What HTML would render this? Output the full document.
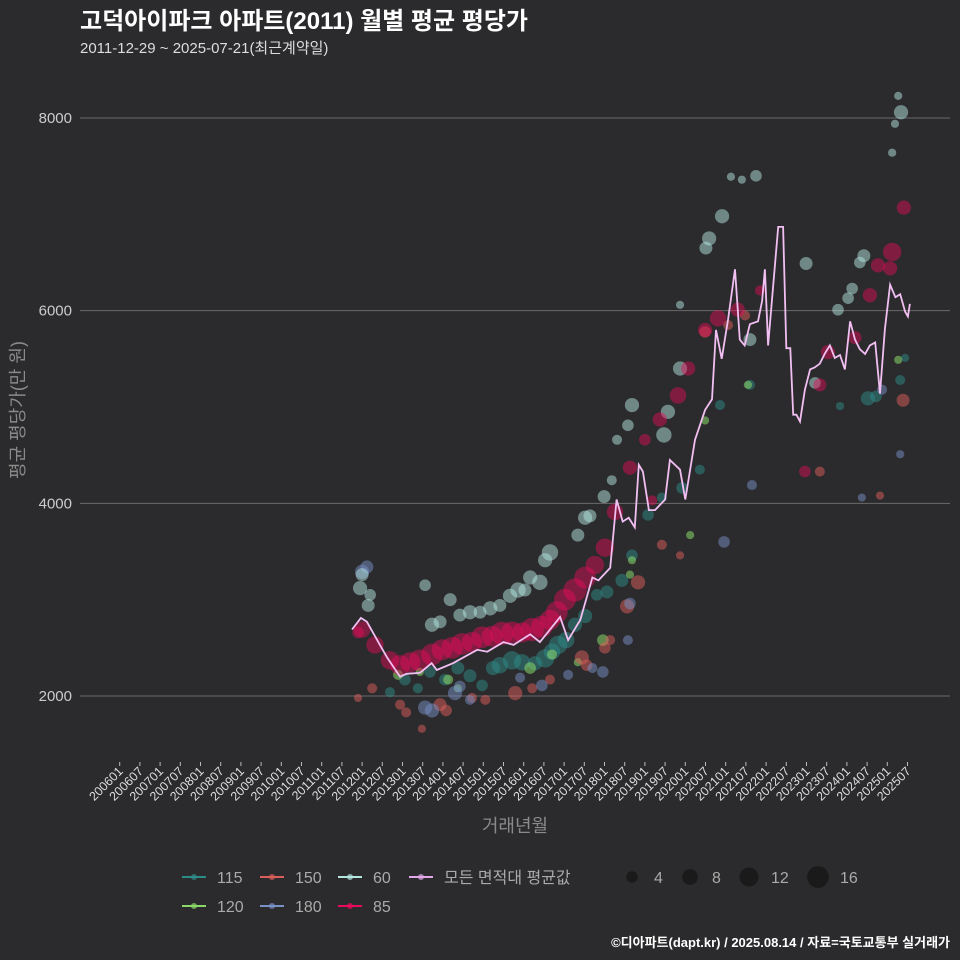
<!DOCTYPE html>
<html><head><meta charset="utf-8">
<style>
html,body{margin:0;padding:0;background:#2b2b2d;}
svg{display:block;font-family:"Liberation Sans","Noto Sans CJK KR",sans-serif;}
</style></head>
<body>
<svg id="chart" width="960" height="960" viewBox="0 0 960 960">
<rect x="0" y="0" width="960" height="960" fill="#2b2b2d"/>
<text x="80" y="29" fill="#ffffff" font-size="24" font-weight="bold">고덕아이파크 아파트(2011) 월별 평균 평당가</text>
<text x="80" y="53" fill="#dddddd" font-size="15">2011-12-29 ~ 2025-07-21(최근계약일)</text>
<g id="grid"></g>
<g id="points"></g>
<g id="avgline"></g>
<g id="xaxis"></g>
<text x="515" y="832" fill="#8a8a8a" font-size="18" text-anchor="middle">거래년월</text>
<text transform="translate(24,410) rotate(-90)" fill="#8a8a8a" font-size="18" text-anchor="middle">평균 평당가(만 원)</text>
<g id="legend"></g>
<text x="950" y="947" fill="#ffffff" font-size="13" font-weight="bold" text-anchor="end">©디아파트(dapt.kr) / 2025.08.14 / 자료=국토교통부 실거래가</text>
</svg>
<script>
const yTicks = [2000, 4000, 6000, 8000];
const avgYears = [2011.75,2011.97,2012.12,2012.44,2012.62,2012.94,2013.1,2013.43,2013.72,2013.85,2014.25,2014.85,2015.1,2015.5,2015.75,2016.16,2016.4,2016.9,2017.1,2017.4,2017.7,2017.85,2018.14,2018.3,2018.45,2018.6,2018.75,2018.85,2018.95,2019.1,2019.25,2019.5,2019.62,2019.87,2020.0,2020.24,2020.49,2020.66,2020.76,2020.9,2021.06,2021.23,2021.35,2021.47,2021.6,2021.8,2021.9,2021.97,2022.05,2022.3,2022.42,2022.5,2022.6,2022.67,2022.75,2022.84,2022.96,2023.09,2023.2,2023.33,2023.46,2023.58,2023.7,2023.83,2023.95,2024.08,2024.2,2024.32,2024.45,2024.57,2024.7,2024.82,2024.94,2025.07,2025.2,2025.32,2025.44,2025.51,2025.56];
const avgValues = [2690,2810,2770,2530,2400,2200,2230,2240,2340,2270,2340,2480,2460,2560,2530,2640,2560,2820,2580,2790,3230,3200,3330,4040,3810,3850,3750,4400,4330,3930,3930,4040,4450,4350,4040,4660,4970,5080,5800,5500,5910,6430,5700,5640,5860,5890,6100,6430,5640,6870,6870,5610,5610,4920,4920,4850,5180,5390,5410,5450,5560,5640,5510,5540,5390,5890,5700,5600,5550,5640,5670,5140,5810,6270,6140,6170,5990,5940,6070];
// [year, value, count]
const s60 = [[2011.95,3120,6],[2012.0,3260,5],[2012.15,2940,5],[2012.2,3050,4],[2013.56,3150,4],[2013.73,2740,6],[2013.93,2770,5],[2014.18,3000,5],[2014.42,2840,5],[2014.67,2870,6],[2014.92,2870,5],[2015.17,2910,6],[2015.41,2940,5],[2015.66,3040,6],[2015.86,3100,7],[2016.03,3100,5],[2016.16,3230,6],[2016.4,3180,7],[2016.53,3410,6],[2016.65,3490,8],[2017.34,3670,5],[2017.52,3850,6],[2017.64,3870,5],[2017.99,4070,5],[2018.18,4240,3],[2018.31,4660,3],[2018.58,4810,4],[2018.68,5020,6],[2019.47,4710,7],[2019.57,4950,6],[2019.87,5400,6],[2020.51,6650,5],[2020.59,6750,6],[2020.91,6980,6],[2021.13,7390,2],[2021.4,7360,2],[2021.75,7400,4],[2021.6,5700,5],[2022.99,6490,5],[2023.21,5250,4],[2024.03,6130,4],[2024.13,6230,4],[2024.32,6500,4],[2024.42,6570,5],[2025.12,7640,2],[2025.19,7940,2],[2025.34,8060,6],[2025.27,8230,2],[2019.87,6060,2],[2023.78,6010,4]];
const s85 = [[2011.9,2660,4],[2012.0,2690,8],[2012.32,2530,9],[2012.69,2370,10],[2012.94,2320,12],[2013.19,2350,12],[2013.43,2370,14],[2013.73,2430,14],[2013.98,2480,13],[2014.23,2500,14],[2014.47,2540,14],[2014.72,2560,12],[2014.97,2610,14],[2015.22,2620,13],[2015.46,2650,16],[2015.71,2660,14],[2015.96,2660,12],[2016.21,2690,16],[2016.45,2720,14],[2016.65,2790,12],[2016.82,2870,14],[2017.02,3000,14],[2017.27,3100,16],[2017.52,3230,14],[2017.76,3360,10],[2018.01,3540,10],[2018.26,3910,8],[2018.63,4370,6],[2019.0,4660,4],[2019.37,4870,6],[2019.82,5120,8],[2020.07,5400,6],[2020.49,5800,6],[2020.81,5920,8],[2021.3,6010,6],[2021.85,6210,3],[2022.96,4330,4],[2023.53,5570,6],[2024.2,5720,5],[2024.57,6160,6],[2024.77,6470,6],[2025.12,6610,10],[2025.41,7070,6],[2025.07,6440,6],[2019.18,4030,3],[2023.33,5230,5]];
const s115 = [[2012.69,2040,3],[2013.06,2170,4],[2013.38,2080,3],[2013.68,2250,4],[2014.05,2170,4],[2014.37,2290,5],[2014.67,2210,5],[2014.97,2110,4],[2015.24,2290,6],[2015.41,2320,8],[2015.71,2370,10],[2015.96,2350,8],[2016.28,2340,6],[2016.53,2390,10],[2016.7,2460,8],[2016.85,2530,10],[2017.05,2580,8],[2017.27,2740,6],[2017.52,2830,6],[2017.81,3050,4],[2018.06,3080,5],[2018.43,3200,5],[2018.68,3460,4],[2019.08,3880,4],[2019.42,4060,3],[2019.92,4160,4],[2020.36,4350,3],[2020.86,5020,3],[2021.6,5230,3],[2024.52,5090,6],[2024.72,5110,4],[2025.32,5280,3],[2025.44,5510,2],[2023.83,5010,2]];
const s150 = [[2011.9,1980,2],[2012.25,2080,3],[2012.94,1910,3],[2013.09,1830,3],[2013.93,1910,5],[2014.08,1850,4],[2014.72,1980,3],[2015.05,1960,3],[2015.79,2030,6],[2016.21,2080,3],[2016.65,2170,3],[2017.44,2400,6],[2017.56,2320,4],[2018.01,2500,4],[2018.14,2580,3],[2018.56,2930,6],[2018.83,3180,6],[2019.42,3570,3],[2019.87,3460,2],[2020.49,5780,4],[2021.06,5850,3],[2023.33,4330,3],[2024.82,4080,2],[2025.39,5070,5],[2021.48,5950,3],[2013.48,1660,2]];
const s120 = [[2012.89,2220,3],[2013.43,2250,2],[2014.13,2170,3],[2014.37,2080,2],[2016.16,2290,4],[2016.7,2430,3],[2017.34,2350,2],[2017.96,2580,4],[2018.63,3260,2],[2018.68,3410,2],[2020.12,3670,2],[2020.49,4860,2],[2021.55,5230,2],[2025.27,5490,2]];
const s180 = [[2012.0,3290,6],[2012.12,3340,5],[2013.56,1880,6],[2013.73,1850,6],[2014.3,2030,6],[2014.42,2100,4],[2014.67,1960,3],[2015.91,2190,3],[2016.45,2110,4],[2017.1,2220,3],[2017.7,2290,3],[2017.96,2250,4],[2018.58,2580,3],[2018.63,2960,4],[2020.96,3600,4],[2021.65,4190,3],[2024.37,4060,2],[2025.32,4510,2],[2024.87,5180,3]];
const sizeLegend = [4, 8, 12, 16];

const NS = "http://www.w3.org/2000/svg";
function xs(yr){ return 119.7 + (yr - 2006) * 40.4; }
function ys(v){ return 696 - (v - 2000) * 0.09633; }
function rs(c){ return 2.9 * Math.sqrt(c); }
function mk(tag, attrs, parent){ const e = document.createElementNS(NS, tag); for (const k in attrs) e.setAttribute(k, attrs[k]); parent.appendChild(e); return e; }

const grid = document.getElementById('grid');
yTicks.forEach(t => {
  const l = mk('line', {x1:80, x2:950, y1:ys(t), y2:ys(t), stroke:'#6a6a6a', 'stroke-width':1}, grid);
  
  
  const tx = mk('text', {x:72, y:ys(t)+5, fill:'#cccccc', 'font-size':15, 'text-anchor':'end'}, grid);
  tx.textContent = t;
  
  
});

const xa = document.getElementById('xaxis');
for (let i = 0; i < 40; i++) {
  const yr = 2006 + Math.floor(i/2);
  const mo = i % 2 ? '07' : '01';
  const x = xs(2006 + i*0.5);
  const tk = mk('line', {x1:x, x2:x, y1:762, y2:766, stroke:'#bbbbbb', 'stroke-width':1}, xa);
  
  
  const tx = mk('text', {x:x+4, y:772, fill:'#dddddd', 'font-size':12.5, 'text-anchor':'end', transform:'rotate(-45 '+(x+4)+' 772)'}, xa);
  tx.textContent = yr + mo;
  
  
}

const pts = document.getElementById('points');
const seriesList = [
  ['115', s115, '#2e8c88', 0.5],
  ['120', s120, '#8ad86a', 0.55],
  ['150', s150, '#dc5e5a', 0.5],
  ['180', s180, '#7890c6', 0.5],
  ['60', s60, '#b4e6df', 0.5],
  ['85', s85, '#ea0a5c', 0.45]
];
seriesList.forEach(s => {
  s[1].forEach(d => {
    const c = mk('circle', {cx:xs(d[0]), cy:ys(d[1]), r:rs(d[2]), fill:s[2], 'fill-opacity':s[3]}, pts);
    
    
  });
});

const ag = document.getElementById('avgline');
const pathD = avgYears.map((y,i) => (i ? 'L' : 'M') + xs(y).toFixed(1) + ' ' + ys(avgValues[i]).toFixed(1)).join(' ');
const ap = mk('path', {d:pathD, fill:'none', stroke:'#f2bff2', 'stroke-width':1.8}, ag);



const lg = document.getElementById('legend');
const legItems = [
  ['115', '#2e8c88', 182, 877], ['150', '#dc5e5a', 260, 877], ['60', '#b4e6df', 338, 877], ['모든 면적대 평균값', '#e0a8e8', 409, 877],
  ['120', '#8ad86a', 182, 906], ['180', '#7890c6', 260, 906], ['85', '#ea0a5c', 338, 906]
];
legItems.forEach(it => {
  const g = mk('g', {}, lg);
  
  
  mk('line', {x1:it[2], x2:it[2]+24, y1:it[3], y2:it[3], stroke:it[1], 'stroke-width':2}, g);
  mk('circle', {cx:it[2]+12, cy:it[3], r:3, fill:it[1], 'fill-opacity':0.7}, g);
  const t = mk('text', {x:it[2]+35, y:it[3]+6, fill:'#aaaaaa', 'font-size':16}, g);
  t.textContent = it[0];
});
const sizeX = [632, 690, 749, 818];
sizeLegend.forEach((n, i) => {
  const g = mk('g', {}, lg);
  
  
  mk('circle', {cx:sizeX[i], cy:877, r:2.6*Math.sqrt(n)+0.5, fill:'#1a1a1b'}, g);
  const t = mk('text', {x:sizeX[i]+22, y:883, fill:'#aaaaaa', 'font-size':16}, g);
  t.textContent = n;
});
</script>
</body></html>
